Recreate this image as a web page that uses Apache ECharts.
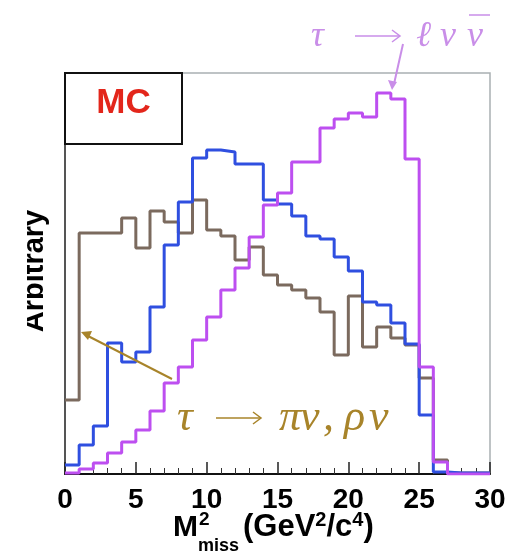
<!DOCTYPE html>
<html>
<head>
<meta charset="utf-8">
<script src="https://cdn.jsdelivr.net/npm/echarts@6/dist/echarts.min.js"></script>
<style>
  html, body { margin: 0; padding: 0; background: #ffffff; }
  #chart { width: 515px; height: 553px; }
</style>
</head>
<body>
<div id="chart"></div>
<script>
// Lower edges of the 1 GeV^2/c^4 bins of the missing-mass-squared histograms
const binLow = [0, 1, 2, 3, 4, 5, 6, 7, 8, 9, 10, 11, 12, 13, 14, 15, 16, 17, 18, 19,
                20, 21, 22, 23, 24, 25, 26, 27, 28, 29];
const binWidth = 1;

// Bin contents (arbitrary units)
const hadronic = [74, 241, 241, 241, 256, 226, 263, 252, 241, 274, 244, 238, 214, 227, 199,
                  189, 184, 176, 162, 119, 178, 127, 147, 136, 129, 96, 14, 1, 1, 1];
const blueSample = [9, 29, 48, 131, 112, 122, 167, 229, 272, 316, 324, 322, 310, 310, 274,
                    270, 258, 238, 235, 217, 203, 172, 169, 151, 130, 59, 2, 1, 1, 1];
const leptonic = [1, 5, 11, 21, 32, 44, 63, 91, 107, 134, 157, 184, 206, 237, 269,
                  281, 312, 312, 346, 355, 361, 357, 381, 375, 315, 107, 12, 0, 0, 0];

const xTicks = [0, 5, 10, 15, 20, 25, 30];
const yMax = 401;

// Turn bin contents into step points: horizontal at each bin's value across the bin
function stepPoints(values) {
  const pts = values.map((v, i) => [binLow[i], v]);
  const last = values.length - 1;
  pts.push([binLow[last] + binWidth, values[last]]);
  return pts;
}

function histSeries(name, values, color) {
  return {
    name: name,
    type: 'line',
    step: 'end',
    data: stepPoints(values),
    showSymbol: false,
    symbol: 'none',
    lineStyle: { color: color, width: 3 },
    itemStyle: { color: color },
    emphasis: { disabled: true },
    animation: false,
    clip: true
  };
}

const gold = '#a8842a';
const violet = '#c98ee8';
const mathFont = '"Liberation Serif"';

// Italic serif glyphs laid out one by one on a common baseline, with math-style spacing
function glyphs(list, baseline, size, color) {
  return list.map(g => ({
    type: 'text', z: 60, x: g[1], y: baseline + Math.round(0.22 * size),
    style: {
      text: g[0], fill: color, font: 'italic ' + size + 'px ' + mathFont,
      textVerticalAlign: 'bottom'
    }
  }));
}

// Thin right-pointing arrow, like a typeset \rightarrow
function rightArrow(x1, x2, y, color) {
  return [
    { type: 'line', z: 60, shape: { x1: x1, y1: y, x2: x2, y2: y }, style: { stroke: color, lineWidth: 1.5 } },
    { type: 'polyline', z: 60, shape: { points: [[x2 - 8, y - 6], [x2, y], [x2 - 8, y + 6]] },
      style: { stroke: color, lineWidth: 1.5, fill: null } }
  ];
}

const chart = echarts.init(document.getElementById('chart'), null, { renderer: 'canvas' });

const graphics = [
  // MC label box
  {
    type: 'rect', z: 100,
    shape: { x: 65, y: 73, width: 117, height: 71 },
    style: { fill: '#fff', stroke: '#111', lineWidth: 2 }
  },
  {
    type: 'text', z: 101, x: 123.5, y: 103,
    style: {
      text: 'MC', fill: '#e3261b', font: 'bold 35px "Liberation Sans"',
      textAlign: 'center', textVerticalAlign: 'middle'
    }
  },
  // y-axis title, trimmed at the page margin
  {
    type: 'text', z: 50, x: 35, y: 271, rotation: Math.PI / 2,
    style: {
      text: 'Arbitrary', fill: '#000', font: 'bold 29px "Liberation Sans"',
      textAlign: 'center', textVerticalAlign: 'middle'
    }
  },
  {
    type: 'rect', z: 51,
    shape: { x: 0, y: 150, width: 27, height: 250 },
    style: { fill: '#fff' }
  },
  // x-axis title: M^2_miss (GeV^2/c^4)
  {
    type: 'text', z: 50, x: 173, y: 543,
    style: { text: 'M', fill: '#000', font: 'bold 30px "Liberation Sans"', textVerticalAlign: 'bottom' }
  },
  {
    type: 'text', z: 50, x: 199, y: 529,
    style: { text: '2', fill: '#000', font: 'bold 19px "Liberation Sans"', textVerticalAlign: 'bottom' }
  },
  {
    type: 'text', z: 50, x: 198, y: 555,
    style: { text: 'miss', fill: '#000', font: 'bold 18px "Liberation Sans"', textVerticalAlign: 'bottom' }
  },
  {
    type: 'text', z: 50, x: 243, y: 544,
    style: {
      text: '(GeV{s|2}/c{s|4})',
      fill: '#000', font: 'bold 31px "Liberation Sans"', textVerticalAlign: 'bottom',
      rich: { s: { fontSize: 20, fontWeight: 'bold', fontFamily: 'Liberation Sans', verticalAlign: 'top', padding: [0, 0, 14, 0] } }
    }
  },
  // leptonic annotation and its pointer
  ...glyphs([['τ', 311]], 47, 36, violet),
  ...rightArrow(355, 400, 36, violet),
  ...glyphs([['ℓ', 416], ['ν', 440], ['ν', 467]], 47, 36, violet),
  { type: 'line', z: 60, shape: { x1: 469, y1: 15, x2: 490, y2: 15 }, style: { stroke: violet, lineWidth: 1.5 } },
  {
    type: 'line', z: 60,
    shape: { x1: 403, y1: 44, x2: 394, y2: 84 },
    style: { stroke: violet, lineWidth: 2 }
  },
  {
    type: 'polygon', z: 60,
    shape: { points: [[392, 90], [388, 80], [397, 82]] },
    style: { fill: violet }
  },
  // hadronic annotation and its pointer
  ...glyphs([['τ', 177]], 430, 44, gold),
  ...rightArrow(216, 261, 418, gold),
  ...glyphs([['π', 279], ['ν', 300], [',', 323], ['ρ', 344], ['ν', 369]], 430, 44, gold),
  {
    type: 'line', z: 60,
    shape: { x1: 172, y1: 379, x2: 88, y2: 336 },
    style: { stroke: gold, lineWidth: 2 }
  },
  {
    type: 'polygon', z: 60,
    shape: { points: [[81, 332], [92, 331], [88, 340]] },
    style: { fill: gold }
  }
];

chart.setOption({
  animation: false,
  backgroundColor: '#ffffff',
  grid: {
    left: 65, right: 25, top: 73, bottom: 79,
    show: true, borderColor: '#a9b0b2', borderWidth: 1.5, backgroundColor: 'transparent'
  },
  xAxis: {
    type: 'value',
    min: 0, max: 30, interval: 5,
    axisLine: { show: true, onZero: false, lineStyle: { color: '#111', width: 2 } },
    axisTick: { show: true, inside: true, length: 12, lineStyle: { color: '#222', width: 1.5 } },
    minorTick: { show: true, splitNumber: 5, length: 6, lineStyle: { color: '#333', width: 1 } },
    splitLine: { show: false },
    axisLabel: {
      margin: 12,
      fontFamily: 'Liberation Sans', fontWeight: 'bold', fontSize: 28, color: '#000',
      formatter: v => (xTicks.indexOf(v) >= 0 ? String(v) : '')
    }
  },
  yAxis: {
    type: 'value',
    min: 0, max: yMax,
    axisLine: { show: true, lineStyle: { color: '#555', width: 2 } },
    axisTick: { show: false },
    axisLabel: { show: false },
    splitLine: { show: false }
  },
  series: [
    histSeries('τ → πν, ρν', hadronic, '#7b6a5e'),
    histSeries('signal', blueSample, '#2f4fe0'),
    histSeries('τ → ℓνν̄', leptonic, '#bd4ff0')
  ],
  graphic: graphics
});
</script>
</body>
</html>
